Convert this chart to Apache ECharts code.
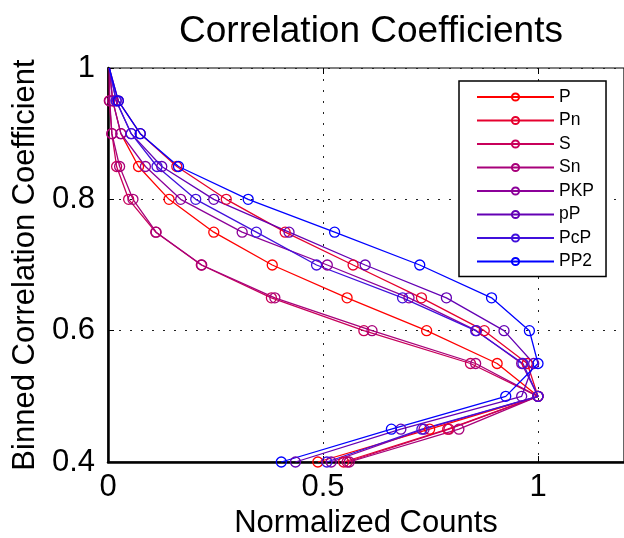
<!DOCTYPE html>
<html>
<head>
<meta charset="utf-8">
<script src="https://cdn.jsdelivr.net/npm/echarts@6/dist/echarts.min.js"></script>
<style>
  html, body { margin: 0; padding: 0; background: #fff; }
  #chart { width: 624px; height: 538px; }
</style>
</head>
<body>
<div id="chart"></div>
<script>
// binned correlation levels (y) and normalized counts per phase (x)
const levels = [1, 0.95, 0.9, 0.85, 0.8, 0.75, 0.7, 0.65, 0.6, 0.55, 0.5, 0.45, 0.4];
const phases = ["P", "Pn", "S", "Sn", "PKP", "pP", "PcP", "PP2"];
const colors = ["#ff0000", "#e6002e", "#c8005a", "#a8007a", "#8c0099", "#6400b4", "#4010dc", "#0000ff"];

const countsP   = [0.003, 0.011, 0.030, 0.071, 0.142, 0.246, 0.382, 0.556, 0.741, 0.905, 1.0, 0.748, 0.488];
const countsPn  = [0.003, 0.024, 0.075, 0.160, 0.275, 0.412, 0.570, 0.729, 0.875, 0.975, 1.0, 0.790, 0.548];
const countsS   = [0.003, 0.003, 0.009, 0.020, 0.048, 0.111, 0.217, 0.380, 0.595, 0.843, 1.0, 0.793, 0.556];
const countsSn  = [0.003, 0.004, 0.009, 0.027, 0.058, 0.112, 0.218, 0.388, 0.614, 0.855, 1.0, 0.816, 0.561];
const countsPKP = [0.003, 0.011, 0.030, 0.087, 0.169, 0.312, 0.510, 0.700, 0.857, 0.962, 1.0, 0.735, 0.519];
const countspP  = [0.003, 0.019, 0.054, 0.125, 0.246, 0.421, 0.598, 0.787, 0.921, 0.990, 0.962, 0.681, 0.436];
const countsPcP = [0.003, 0.019, 0.054, 0.114, 0.204, 0.345, 0.485, 0.685, 0.855, 0.965, 1.0, 0.730, 0.509];
const countsPP2 = [0.003, 0.024, 0.075, 0.164, 0.326, 0.527, 0.725, 0.892, 0.980, 1.0, 0.925, 0.659, 0.403];

const allCounts = [countsP, countsPn, countsS, countsSn, countsPKP, countspP, countsPcP, countsPP2];

const xTickLabels = [0, 0.5, 1];
const yTickLabels = [0.4, 0.6, 0.8, 1];

const font = "Liberation Sans";

const chart = echarts.init(document.getElementById("chart"));

const series = phases.map((name, i) => ({
  name: name,
  type: "line",
  symbol: "circle",
  symbolSize: 10,
  clip: false,
  lineStyle: { color: colors[i], width: 1.3 },
  itemStyle: { color: "rgba(255,255,255,0)", borderColor: colors[i], borderWidth: 1.3 },
  emphasis: { disabled: true },
  // the point at y=1 has no marker in the original
  data: levels.map((y, k) =>
    k === 0 ? { value: [allCounts[i][k], y], symbol: "none" } : [allCounts[i][k], y]
  )
}));

const dotted = { type: [2, 9], color: "#222", width: 1 };

chart.setOption({
  animation: false,
  title: {
    text: "Correlation Coefficients",
    left: 366,
    top: 8,
    textAlign: "center",
    textStyle: { fontFamily: font, fontSize: 37, fontWeight: "normal", color: "#000" }
  },
  grid: {
    left: 108,
    right: 0,
    top: 68,
    bottom: 76,
    outerBoundsMode: "none",
    show: true,
    borderColor: "#000",
    borderWidth: 1.2
  },
  legend: {
    orient: "vertical",
    left: 459,
    top: 81,
    data: phases,
    itemWidth: 77,
    itemHeight: 9,
    itemGap: 5.5,
    padding: [7, 12, 6, 17],
    backgroundColor: "#fff",
    borderColor: "#000",
    borderWidth: 1.5,
    borderRadius: 0,
    textStyle: { fontFamily: font, fontSize: 17.5, color: "#000" }
  },
  xAxis: [
    {
      type: "value",
      min: 0,
      max: 1.2,
      interval: 0.5,
      name: "Normalized Counts",
      nameLocation: "middle",
      nameGap: 42,
      nameTextStyle: { fontFamily: font, fontSize: 31, color: "#000" },
      axisLine: { show: true, lineStyle: { color: "#000", width: 2.5 } },
      axisTick: { show: true, inside: true, length: 6, lineStyle: { color: "#000" } },
      axisLabel: {
        margin: 10,
        fontFamily: font,
        fontSize: 31,
        color: "#000",
        formatter: v => (xTickLabels.some(t => Math.abs(t - v) < 1e-6) ? String(+v.toFixed(2)) : "")
      },
      splitLine: { show: true, lineStyle: dotted }
    },
    {
      type: "value",
      position: "top",
      min: 0,
      max: 1.2,
      interval: 0.5,
      axisLine: { show: false },
      axisTick: { show: true, inside: true, length: 6, lineStyle: { color: "#000" } },
      axisLabel: { show: false },
      splitLine: { show: false }
    }
  ],
  yAxis: {
    type: "value",
    min: 0.4,
    max: 1,
    interval: 0.2,
    name: "Binned Correlation Coefficient",
    nameLocation: "middle",
    nameRotate: 90,
    nameGap: 57,
    nameTextStyle: { fontFamily: font, fontSize: 31, color: "#000" },
    axisLine: { show: true, lineStyle: { color: "#000", width: 2.5 } },
    axisTick: { show: true, inside: true, length: 6, lineStyle: { color: "#000" } },
    axisLabel: {
      margin: 13,
      fontFamily: font,
      fontSize: 31,
      color: "#000",
      formatter: v => (yTickLabels.some(t => Math.abs(t - v) < 1e-6) ? String(+v.toFixed(2)) : "")
    },
    splitLine: { show: true, lineStyle: dotted }
  },
  series: series
});
</script>
</body>
</html>
